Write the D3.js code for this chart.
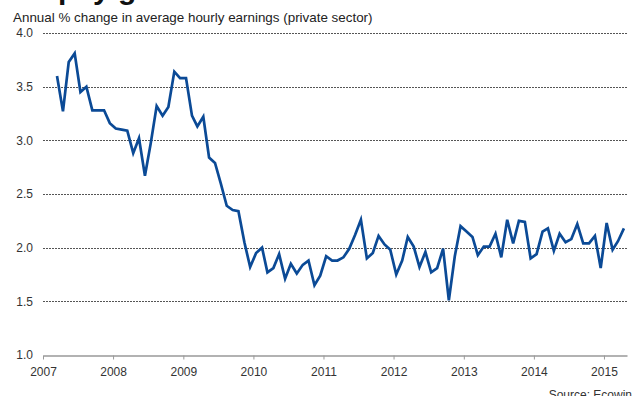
<!DOCTYPE html>
<html>
<head>
<meta charset="utf-8">
<script src="https://cdn.jsdelivr.net/npm/d3@7"></script>
<style>
  body { margin: 0; background: #fff; }
  svg { display: block; font-family: "Liberation Sans", Arial, sans-serif; }
</style>
</head>
<body>
<div id="chart"></div>
<script>
// monthly annual % change, first value is March 2007
const earnings2007 = [3.60, 3.27, 3.73, 3.81, 3.45, 3.50, 3.28, 3.28, 3.28, 3.16];
const earnings2008 = [3.11, 3.10, 3.09, 2.88, 3.02, 2.67, 2.97, 3.32, 3.23, 3.31, 3.64, 3.58];
const earnings2009 = [3.58, 3.23, 3.13, 3.22, 2.84, 2.79, 2.60, 2.39, 2.35, 2.34, 2.05, 1.82];
const earnings2010 = [1.95, 2.00, 1.77, 1.81, 1.94, 1.71, 1.85, 1.76, 1.84, 1.88, 1.65, 1.74];
const earnings2011 = [1.92, 1.88, 1.88, 1.91, 1.99, 2.12, 2.26, 1.90, 1.95, 2.11, 2.03, 1.98];
const earnings2012 = [1.75, 1.88, 2.10, 2.01, 1.82, 1.96, 1.77, 1.81, 1.99, 1.51, 1.92, 2.20];
const earnings2013 = [2.15, 2.10, 1.93, 2.01, 2.01, 2.13, 1.91, 2.26, 2.04, 2.25, 2.24, 1.90];
const earnings2014 = [1.94, 2.15, 2.18, 1.97, 2.13, 2.05, 2.08, 2.22, 2.04, 2.04, 2.11, 1.81];
const earnings2015 = [2.23, 1.98, 2.06, 2.18];

const firstMonth = "2007-03";
const yTicks = [1.0, 1.5, 2.0, 2.5, 3.0, 3.5, 4.0];
const yearTicks = [2007, 2008, 2009, 2010, 2011, 2012, 2013, 2014, 2015];

const title = "US pay growth";
const subtitle = "Annual % change in average hourly earnings (private sector)";
const source = "Source: Ecowin";

// set the dimensions and margins of the graph
const margin = { top: 33, right: 17, bottom: 41, left: 43 },
    width = 644 - margin.left - margin.right,
    height = 396 - margin.top - margin.bottom;

const svg = d3.select("#chart")
    .append("svg")
    .attr("width", 644)
    .attr("height", 396);

const g = svg.append("g")
    .attr("transform", `translate(${margin.left},${margin.top})`);

// months as mid-month dates
const allValues = [].concat(earnings2007, earnings2008, earnings2009, earnings2010,
    earnings2011, earnings2012, earnings2013, earnings2014, earnings2015);
const start = d3.timeParse("%Y-%m-%d")(firstMonth + "-15");
const data = allValues.map((v, i) => ({ date: d3.timeMonth.offset(start, i), value: v }));

const x = d3.scaleTime()
    .domain([new Date(2007, 0, 1), new Date(2015, 4, 1)])
    .range([0, width]);

const y = d3.scaleLinear()
    .domain([1, 4])
    .range([height, 0]);

// grid lines
g.selectAll(".grid")
    .data(yTicks.filter(d => d > 1))
    .join("line")
    .attr("x1", 0)
    .attr("x2", width)
    .attr("y1", d => Math.round(y(d)) + 0.5)
    .attr("y2", d => Math.round(y(d)) + 0.5)
    .attr("stroke", "#555")
    .attr("stroke-width", 1)
    .attr("stroke-dasharray", "2,1");

// y labels
g.selectAll(".ylab")
    .data(yTicks)
    .join("text")
    .attr("x", -10)
    .attr("y", d => y(d))
    .attr("dy", "0.35em")
    .attr("text-anchor", "end")
    .attr("font-size", 12)
    .attr("fill", "#333")
    .text(d => d3.format(".1f")(d));

// x axis
const xAxis = g.append("g")
    .attr("transform", `translate(0, ${Math.round(height) + 0.5})`)
    .call(d3.axisBottom(x)
        .tickValues(yearTicks.map(yr => new Date(yr, 0, 1)))
        .tickFormat(d3.timeFormat("%Y"))
        .tickSize(4)
        .tickSizeOuter(0));
xAxis.select(".domain").attr("stroke", "#999").attr("stroke-width", 1.5);
xAxis.selectAll(".tick line").attr("stroke", "#999");
xAxis.selectAll(".tick text")
    .attr("font-size", 12)
    .attr("font-family", "Liberation Sans, Arial, sans-serif")
    .attr("fill", "#333")
    .attr("dy", "1.15em");

// Draw the line
g.append("path")
    .datum(data)
    .attr("fill", "none")
    .attr("stroke", "#0b4a96")
    .attr("stroke-width", 2.7)
    .attr("stroke-linejoin", "miter")
    .attr("d", d3.line()
        .x(d => x(d.date))
        .y(d => y(d.value)));

// titles (the headline is mostly cut off at the top edge)
svg.append("text")
    .attr("x", 8)
    .attr("y", -1)
    .attr("font-size", 30)
    .attr("font-weight", "bold")
    .attr("fill", "#111")
    .text(title);

svg.append("text")
    .attr("x", 13)
    .attr("y", 22)
    .attr("font-size", 13.4)
    .attr("fill", "#222")
    .text(subtitle);

svg.append("text")
    .attr("x", 632)
    .attr("y", 399)
    .attr("text-anchor", "end")
    .attr("font-size", 12)
    .attr("fill", "#333")
    .text(source);
</script>
</body>
</html>
